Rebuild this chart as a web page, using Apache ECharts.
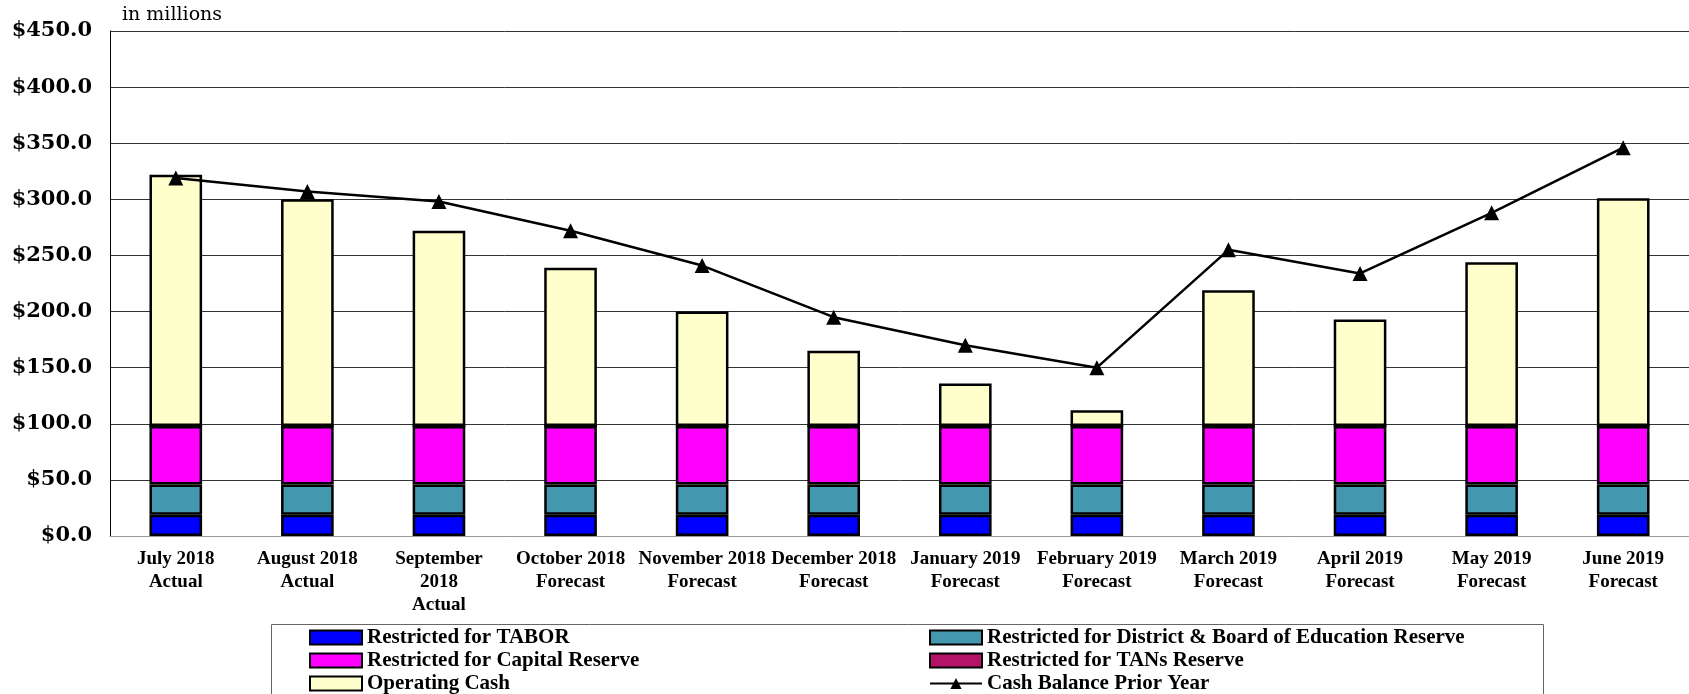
<!DOCTYPE html>
<html>
<head>
<meta charset="utf-8">
<script src="https://cdn.jsdelivr.net/npm/echarts@6/dist/echarts.min.js"></script>
<style>html,body{margin:0;padding:0;background:#fff}#c{width:1689px;height:694px}</style>
</head>
<body>
<div id="c"></div>
<script>
const categories = ["July 2018\nActual","August 2018\nActual","September\n2018\nActual","October 2018\nForecast","November 2018\nForecast","December 2018\nForecast","January 2019\nForecast","February 2019\nForecast","March 2019\nForecast","April 2019\nForecast","May 2019\nForecast","June 2019\nForecast"];
const tabor = [19,19,19,19,19,19,19,19,19,19,19,19];
const districtReserve = [27,27,27,27,27,27,27,27,27,27,27,27];
const capitalReserve = [52,52,52,52,52,52,52,52,52,52,52,52];
const tansReserve = [0,0,0,0,0,0,0,0,0,0,0,0];
const operatingCash = [224,202,174,141,102,67,38,14,121,95,146,203];
const priorYear = [319,307,298,272,241,195,170,150,255,234,288,346];
const yTicks = [0,50,100,150,200,250,300,350,400,450];
const legendNames = [
  ['Restricted for TABOR','Restricted for District & Board of Education Reserve'],
  ['Restricted for Capital Reserve','Restricted for TANs Reserve'],
  ['Operating Cash','Cash Balance Prior Year']
];

const chart = echarts.init(document.getElementById('c'), null, {renderer:'canvas'});
const serifX = 'Liberation Serif';
const legends = [];
const colX = [309, 929];
const rowY = [627, 650, 673];
legendNames.forEach((row, r) => row.forEach((name, c) => {
  legends.push({left:colX[c], top:rowY[r], orient:'horizontal', itemWidth:52, itemHeight:14, padding:0,
    icon: name === 'Cash Balance Prior Year' ? undefined : 'rect',
    textStyle:{fontFamily:serifX, fontWeight:'bold', fontSize:21, color:'#000', padding:[0,0,0,0]},
    data:[name]});
}));
function bar(name, data, color){
  return {type:'bar', stack:'cash', barWidth:'40%', name:name, data:data,
    itemStyle:{color:color, borderColor:'#000', borderWidth:2.5}};
}
chart.setOption({
  animation:false,
  backgroundColor:'#fff',
  grid:{left:110, right:0, top:31, bottom:158, containLabel:false},
  graphic:[
    {type:'text', left:122, top:6, style:{text:'in millions', font:'19px "DejaVu Serif"', fill:'#000'}},
    {type:'rect', left:269, top:622, shape:{width:1272, height:90}, style:{fill:'none', stroke:'#666', lineWidth:1}, z:-1}
  ],
  xAxis:{type:'category', data:categories,
    axisLine:{lineStyle:{color:'#999', width:1}}, axisTick:{show:false},
    axisLabel:{interval:0, margin:12, color:'#000', fontFamily:serifX, fontWeight:'bold', fontSize:19, lineHeight:23}},
  yAxis:{type:'value', min:0, max:450, interval:50,
    axisLine:{show:true, lineStyle:{color:'#000', width:1}}, axisTick:{show:false},
    splitLine:{lineStyle:{color:'#333', width:1}},
    axisLabel:{margin:18, color:'#000', fontFamily:'DejaVu Serif', fontWeight:'bold', fontSize:21,
      formatter:v=> yTicks.includes(v) ? '$'+v.toFixed(1) : ''}},
  legend:legends,
  series:[
    bar('Restricted for TABOR', tabor, '#0000FF'),
    bar('Restricted for District & Board of Education Reserve', districtReserve, '#4398B0'),
    bar('Restricted for Capital Reserve', capitalReserve, '#FF00FF'),
    bar('Restricted for TANs Reserve', tansReserve, '#B5136A'),
    bar('Operating Cash', operatingCash, '#FFFFCC'),
    {type:'line', name:'Cash Balance Prior Year', data:priorYear, symbol:'triangle', symbolSize:15,
     lineStyle:{color:'#000', width:2.5}, itemStyle:{color:'#000'}, z:5}
  ]
});
</script>
</body>
</html>
